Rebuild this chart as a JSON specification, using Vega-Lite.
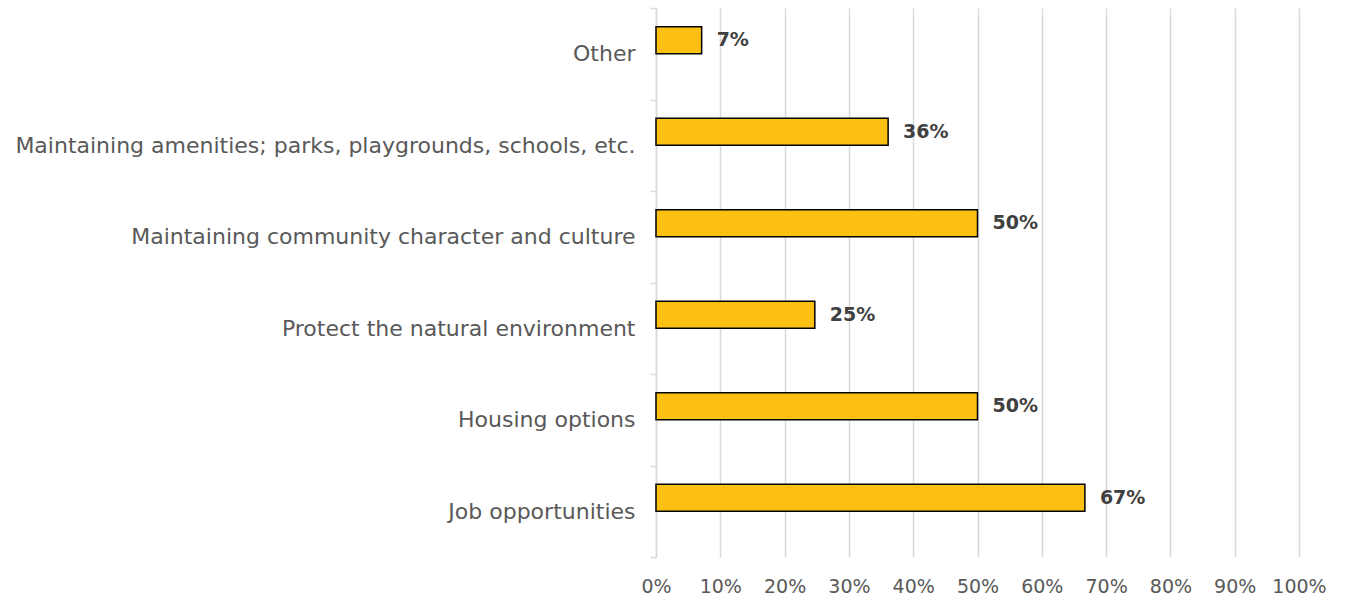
{
  "$schema": "https://vega.github.io/schema/vega-lite/v6.json",
  "autosize": "none",
  "width": 643,
  "height": 549,
  "padding": {"left": 656, "top": 8, "right": 50, "bottom": 43},
  "background": "white",
  "config": {"view": {"stroke": null}},
  "data": {
    "values": [
      {"category": "Other", "value": 0.071},
      {"category": "Maintaining amenities; parks, playgrounds, schools, etc.", "value": 0.361},
      {"category": "Maintaining community character and culture", "value": 0.5},
      {"category": "Protect the natural environment", "value": 0.247},
      {"category": "Housing options", "value": 0.5},
      {"category": "Job opportunities", "value": 0.667}
    ]
  },
  "encoding": {
    "y": {
      "field": "category",
      "type": "nominal",
      "sort": null,
      "scale": {"paddingInner": 0, "paddingOuter": 0},
      "axis": {
        "title": null,
        "domainColor": "#d9d9d9",
        "domainWidth": 1.5,
        "tickColor": "#d9d9d9",
        "tickWidth": 1.5,
        "tickSize": 6,
        "tickBand": "extent",
        "labelPadding": 15,
        "labelFont": "DejaVu Sans",
        "labelFontSize": 22,
        "labelColor": "#595959",
        "labelLimit": 700,
        "grid": false
      }
    },
    "x": {
      "field": "value",
      "type": "quantitative",
      "scale": {"domain": [0, 1], "nice": false},
      "axis": {
        "title": null,
        "format": ".0%",
        "values": [0, 0.1, 0.2, 0.3, 0.4, 0.5, 0.6, 0.7, 0.8, 0.9, 1],
        "domain": false,
        "ticks": false,
        "grid": true,
        "gridColor": "#d9d9d9",
        "gridWidth": 1.5,
        "labelPadding": 20,
        "labelFlush": false,
        "labelOverlap": false,
        "labelBound": false,
        "labelFont": "DejaVu Sans",
        "labelFontSize": 19,
        "labelColor": "#595959"
      }
    }
  },
  "layer": [
    {
      "mark": {"type": "bar", "height": 27, "yOffset": -13.5, "color": "#FBC012", "stroke": "#000000", "strokeWidth": 1.5}
    },
    {
      "mark": {"type": "text", "align": "left", "baseline": "middle", "dx": 15, "yOffset": -13.5, "font": "DejaVu Sans", "fontWeight": "bold", "fontSize": 19, "color": "#404040"},
      "encoding": {"text": {"field": "value", "type": "quantitative", "format": ".0%"}}
    }
  ]
}
